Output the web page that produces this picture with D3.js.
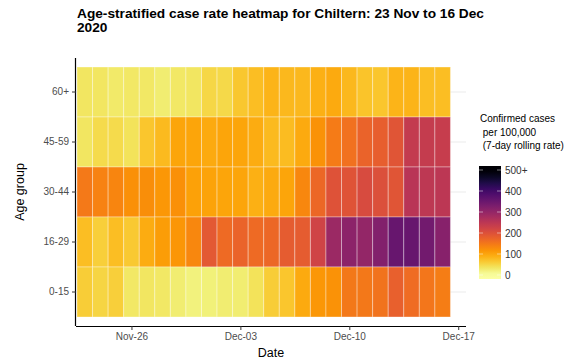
<!DOCTYPE html>
<meta charset="utf-8">
<style>
body { margin: 0; background: #fff; }
text { font-family: "Liberation Sans", Arial, sans-serif; }
.tick text { fill: #4d4d4d; font-size: 10px; }
</style>
<body>
<svg width="585" height="362"></svg>
<script src="https://d3js.org/d3.v7.min.js"></script>
<script>
var svg = d3.select("svg");

// age groups, top to bottom as drawn
var ageGroups = ["60+", "45-59", "30-44", "16-29", "0-15"];

// 23 Nov to 16 Dec 2020, one tile per day
var dates = d3.utcDay.range(new Date(Date.UTC(2020, 10, 23)), new Date(Date.UTC(2020, 11, 17)));

// 7-day rolling case rate per 100,000
var rate60plus = [35, 35, 30, 32, 33, 27, 32, 35, 50, 48, 65, 75, 85, 82, 82, 88, 95, 82, 70, 68, 85, 85, 75, 75];
var rate45to59 = [35, 45, 45, 38, 68, 80, 100, 100, 95, 100, 100, 93, 80, 78, 95, 120, 145, 158, 175, 180, 195, 240, 238, 235];
var rate30to44 = [148, 138, 133, 123, 125, 115, 123, 105, 103, 100, 100, 88, 95, 100, 132, 168, 198, 196, 210, 203, 195, 252, 248, 250];
var rate16to29 = [75, 58, 75, 63, 92, 108, 117, 132, 188, 165, 175, 165, 168, 185, 185, 222, 290, 310, 300, 322, 355, 355, 340, 315];
var rate0to15 = [60, 52, 57, 33, 35, 32, 27, 20, 23, 27, 27, 38, 60, 68, 95, 115, 120, 150, 150, 155, 178, 163, 152, 143];

var legendBreaks = [0, 100, 200, 300, 400, 500];
var legendLabels = ["0", "100", "200", "300", "400", "500+"];

var rates = [rate60plus, rate45to59, rate30to44, rate16to29, rate0to15];
var cells = [];
ageGroups.forEach(function(g, i) {
  dates.forEach(function(d, j) {
    cells.push({ group: g, date: d, value: rates[i][j] });
  });
});

var panel = { left: 76, right: 466, top: 58, bottom: 326 };

var x = d3.scaleUtc()
    .domain([new Date(Date.UTC(2020, 10, 22, 12)), new Date(Date.UTC(2020, 11, 17, 12))])
    .range([panel.left + 1, panel.right]);

var y = d3.scaleBand()
    .domain(ageGroups)
    .range([67, 317]);

var color = function(v) {
  return d3.interpolateInferno(1 - Math.max(0, Math.min(500, v)) / 500);
};

// gridlines at row centres
svg.append("g")
  .selectAll("line")
  .data(ageGroups)
  .enter().append("line")
    .attr("x1", panel.left)
    .attr("x2", panel.right)
    .attr("y1", function(d) { return y(d) + y.bandwidth() / 2; })
    .attr("y2", function(d) { return y(d) + y.bandwidth() / 2; })
    .style("stroke", "#ebebeb")
    .style("stroke-width", 1);

// tiles
var dayW = x(dates[1]) - x(dates[0]);
svg.append("g")
  .selectAll("rect")
  .data(cells)
  .enter().append("rect")
    .attr("x", function(d) { return x(d.date) - dayW / 2; })
    .attr("y", function(d) { return y(d.group); })
    .attr("width", dayW)
    .attr("height", y.bandwidth())
    .style("fill", function(d) { return color(d.value); })
    .style("stroke", "#fff")
    .style("stroke-opacity", 0.35)
    .style("stroke-width", 1);

// axes
var xAxis = svg.append("g")
    .attr("transform", "translate(0," + panel.bottom + ")")
    .call(d3.axisBottom(x)
      .tickValues([new Date(Date.UTC(2020, 10, 26)), new Date(Date.UTC(2020, 11, 3)),
                   new Date(Date.UTC(2020, 11, 10)), new Date(Date.UTC(2020, 11, 17))])
      .tickFormat(d3.utcFormat("%b-%d"))
      .tickSize(4)
      .tickPadding(3)
      .tickSizeOuter(0));
xAxis.select(".domain").attr("d", "M" + panel.left + ",0.5H" + panel.right).style("stroke", "#000").style("stroke-width", 1.2);
xAxis.selectAll(".tick line").style("stroke", "#333");

var yAxis = svg.append("g")
    .attr("transform", "translate(" + panel.left + ",0)")
    .call(d3.axisLeft(y).tickSize(4).tickPadding(3).tickSizeOuter(0));
yAxis.select(".domain").attr("d", "M-0.5," + panel.top + "V" + panel.bottom).style("stroke", "#000").style("stroke-width", 1.2);
yAxis.selectAll(".tick line").style("stroke", "#333");

// titles
svg.append("text")
    .attr("x", 77).attr("y", 18)
    .style("font-size", "13.7px").style("font-weight", "bold")
    .text("Age-stratified case rate heatmap for Chiltern: 23 Nov to 16 Dec");
svg.append("text")
    .attr("x", 77).attr("y", 32)
    .style("font-size", "13.7px").style("font-weight", "bold")
    .text("2020");

svg.append("text")
    .attr("x", (panel.left + panel.right) / 2).attr("y", 357)
    .attr("text-anchor", "middle")
    .style("font-size", "12.5px")
    .text("Date");

svg.append("text")
    .attr("transform", "translate(24," + (panel.top + panel.bottom) / 2 + ") rotate(-90)")
    .attr("text-anchor", "middle")
    .style("font-size", "12.5px")
    .text("Age group");

// legend
var legend = svg.append("g");
["Confirmed cases", " per 100,000", " (7-day rolling rate)"].forEach(function(t, i) {
  legend.append("text")
      .attr("x", 480).attr("y", 122 + i * 13.5)
      .style("font-size", "10px")
      .style("white-space", "pre")
      .attr("xml:space", "preserve")
      .text(t);
});

var ly = d3.scaleLinear().domain([0, 500]).range([275, 170]);
var barTop = 166, barBottom = 279, barX = 479, barW = 22;

var grad = svg.append("defs").append("linearGradient")
    .attr("id", "lg").attr("x1", 0).attr("y1", 1).attr("x2", 0).attr("y2", 0);
d3.range(0, 21).forEach(function(i) {
  var py = barBottom - (barBottom - barTop) * i / 20;
  grad.append("stop")
      .attr("offset", i / 20)
      .attr("stop-color", color(ly.invert(py)));
});
legend.append("rect")
    .attr("x", barX).attr("y", barTop)
    .attr("width", barW).attr("height", barBottom - barTop)
    .style("fill", "url(#lg)");

legend.selectAll(".lt")
  .data(legendBreaks)
  .enter().append("path")
    .attr("d", function(d) {
      return "M" + barX + "," + ly(d) + "h4M" + (barX + barW - 4) + "," + ly(d) + "h4";
    })
    .style("stroke", "#fff").style("stroke-opacity", 0.6).style("stroke-width", 0.8);

legend.selectAll(".ll")
  .data(legendBreaks)
  .enter().append("text")
    .attr("x", barX + barW + 4)
    .attr("y", function(d) { return ly(d); })
    .attr("dy", "0.35em")
    .style("font-size", "10px")
    .style("fill", "#333")
    .text(function(d, i) { return legendLabels[i]; });
</script>
</body>
</html>
